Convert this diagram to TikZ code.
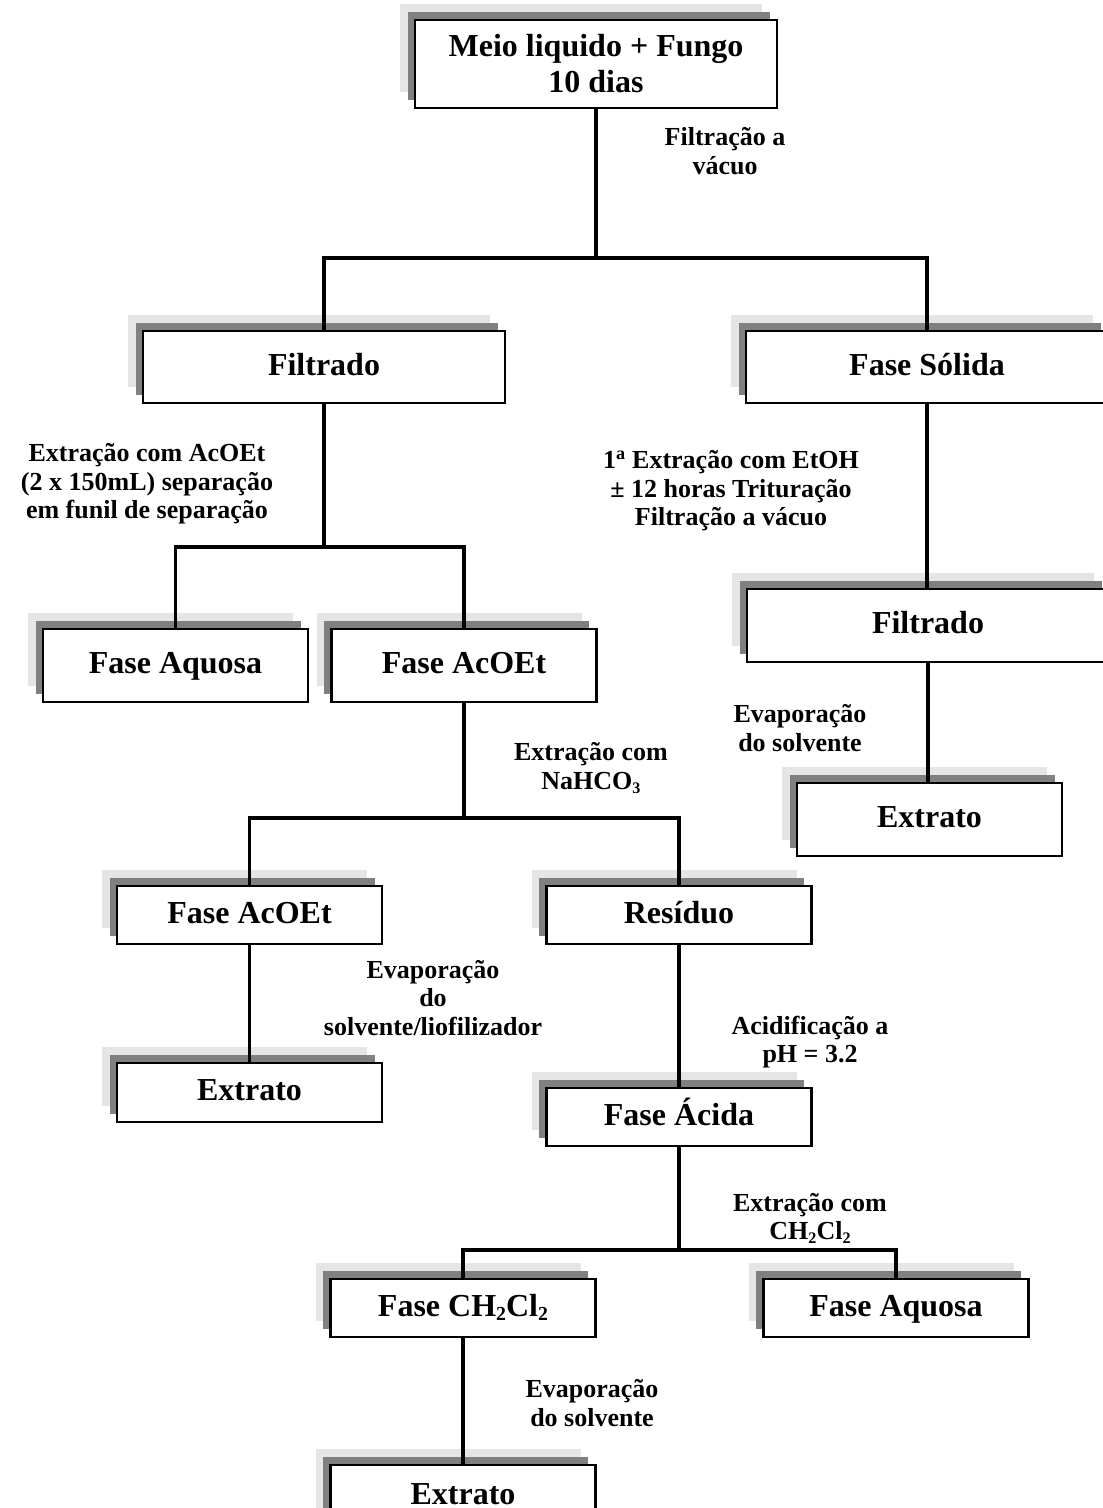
\documentclass[tikz,border=0pt]{standalone}
\usepackage{fontspec}
\setmainfont{Liberation Serif}
\usetikzlibrary{shadows}
\newcommand\subs[1]{\raisebox{-0.3ex}{\scalebox{0.62}{#1}}}
\begin{document}
\begin{tikzpicture}[x=1pt,y=-1pt,
  basebox/.style={draw, line width=2.2pt, fill=white, inner sep=0pt, align=center,
    font=\bfseries\fontsize{32}{36}\selectfont,
    general shadow={fill=black!10, shadow xshift=-15pt, shadow yshift=16pt},
    general shadow={fill=black!50, shadow xshift=-7.5pt, shadow yshift=8pt}},
  box/.style={basebox, text height=22pt, text depth=6pt},
  wide/.style={box, minimum width=362pt},
  narrow/.style={box, minimum width=265pt},
  lbl/.style={align=center, inner sep=0pt, font=\bfseries\fontsize{26}{28.5}\selectfont},
  conn/.style={line width=3.2pt}]
\useasboundingbox (0,0) rectangle (1103,1508);
\begin{scope}
\clip (0,0) rectangle (1103,1508);
% boxes
\node[basebox, minimum width=362pt, minimum height=88pt] (top) at (596,64) {Meio liquido + Fungo\\10 dias};
\node[wide, minimum height=72pt] (filtL) at (324,367) {Filtrado};
\node[wide, minimum height=72pt] (fsol) at (927,367) {Fase Sólida};
\node[narrow, minimum height=73pt] (aqL) at (175.5,665.5) {Fase Aquosa};
\node[narrow, minimum height=73pt] (acoet1) at (464,665.5) {Fase AcOEt};
\node[wide, minimum height=73pt] (filtR) at (928,625.5) {Filtrado};
\node[narrow, minimum height=73pt] (extR) at (929.5,819.5) {Extrato};
\node[narrow, minimum height=58pt] (acoet2) at (249.5,915) {Fase AcOEt};
\node[narrow, minimum height=58pt] (resid) at (679,915) {Resíduo};
\node[narrow, minimum height=59pt] (extL) at (249.5,1092.5) {Extrato};
\node[narrow, minimum height=58pt] (acida) at (679,1117) {Fase Ácida};
\node[narrow, minimum height=58pt] (ch2) at (463,1308) {Fase CH\subs{2}Cl\subs{2}};
\node[narrow, minimum height=58pt] (aqR) at (896,1308) {Fase Aquosa};
\node[narrow, minimum height=62pt] (extB) at (463,1496) {Extrato};
% junction coordinates
\coordinate (j1) at (596,258);
\coordinate (j2) at (323,547);
\coordinate (j3) at (463,818);
\coordinate (j4) at (679,1250);
% connectors
\draw[conn] (top.south) -- (top.south |- j1);
\draw[conn] (filtL.north) -- (filtL.north |- j1) -- (fsol.north |- j1) -- (fsol.north);
\draw[conn] (filtL.south) -- (filtL.south |- j2);
\draw[conn] (aqL.north) -- (aqL.north |- j2) -- (acoet1.north |- j2) -- (acoet1.north);
\draw[conn] (fsol.south) -- (fsol.south |- filtR.north);
\draw[conn] (filtR.south) -- (filtR.south |- extR.north);
\draw[conn] (acoet1.south) -- (acoet1.south |- j3);
\draw[conn] (acoet2.north) -- (acoet2.north |- j3) -- (resid.north |- j3) -- (resid.north);
\draw[conn] (acoet2.south) -- (acoet2.south |- extL.north);
\draw[conn] (resid.south) -- (resid.south |- acida.north);
\draw[conn] (acida.south) -- (acida.south |- j4);
\draw[conn] (ch2.north) -- (ch2.north |- j4) -- (aqR.north |- j4) -- (aqR.north);
\draw[conn] (ch2.south) -- (ch2.south |- extB.north);
\end{scope}
% labels
\node[lbl] (l1) at (725,151) {Filtração a\\vácuo};
\node[lbl] (l2) at (147,484) {Extração com AcOEt\\(2 x 150mL) separação\\em funil de separação};
\node[lbl] (l3) at (731,491) {1\textsuperscript{a} Extração com EtOH\\± 12 horas Trituração\\Filtração a vácuo};
\node[lbl] (l4) at (800,728) {Evaporação\\do solvente};
\node[lbl] (l5) at (591,768) {Extração com\\NaHCO\subs{3}};
\node[lbl] (l6) at (433,998) {Evaporação\\do\\solvente/liofilizador};
\node[lbl] (l7) at (810,1042) {Acidificação a\\pH = 3.2};
\node[lbl] (l8) at (810,1218) {Extração com\\CH\subs{2}Cl\subs{2}};
\node[lbl] (l9) at (592,1403) {Evaporação\\do solvente};
\end{tikzpicture}
\end{document}
